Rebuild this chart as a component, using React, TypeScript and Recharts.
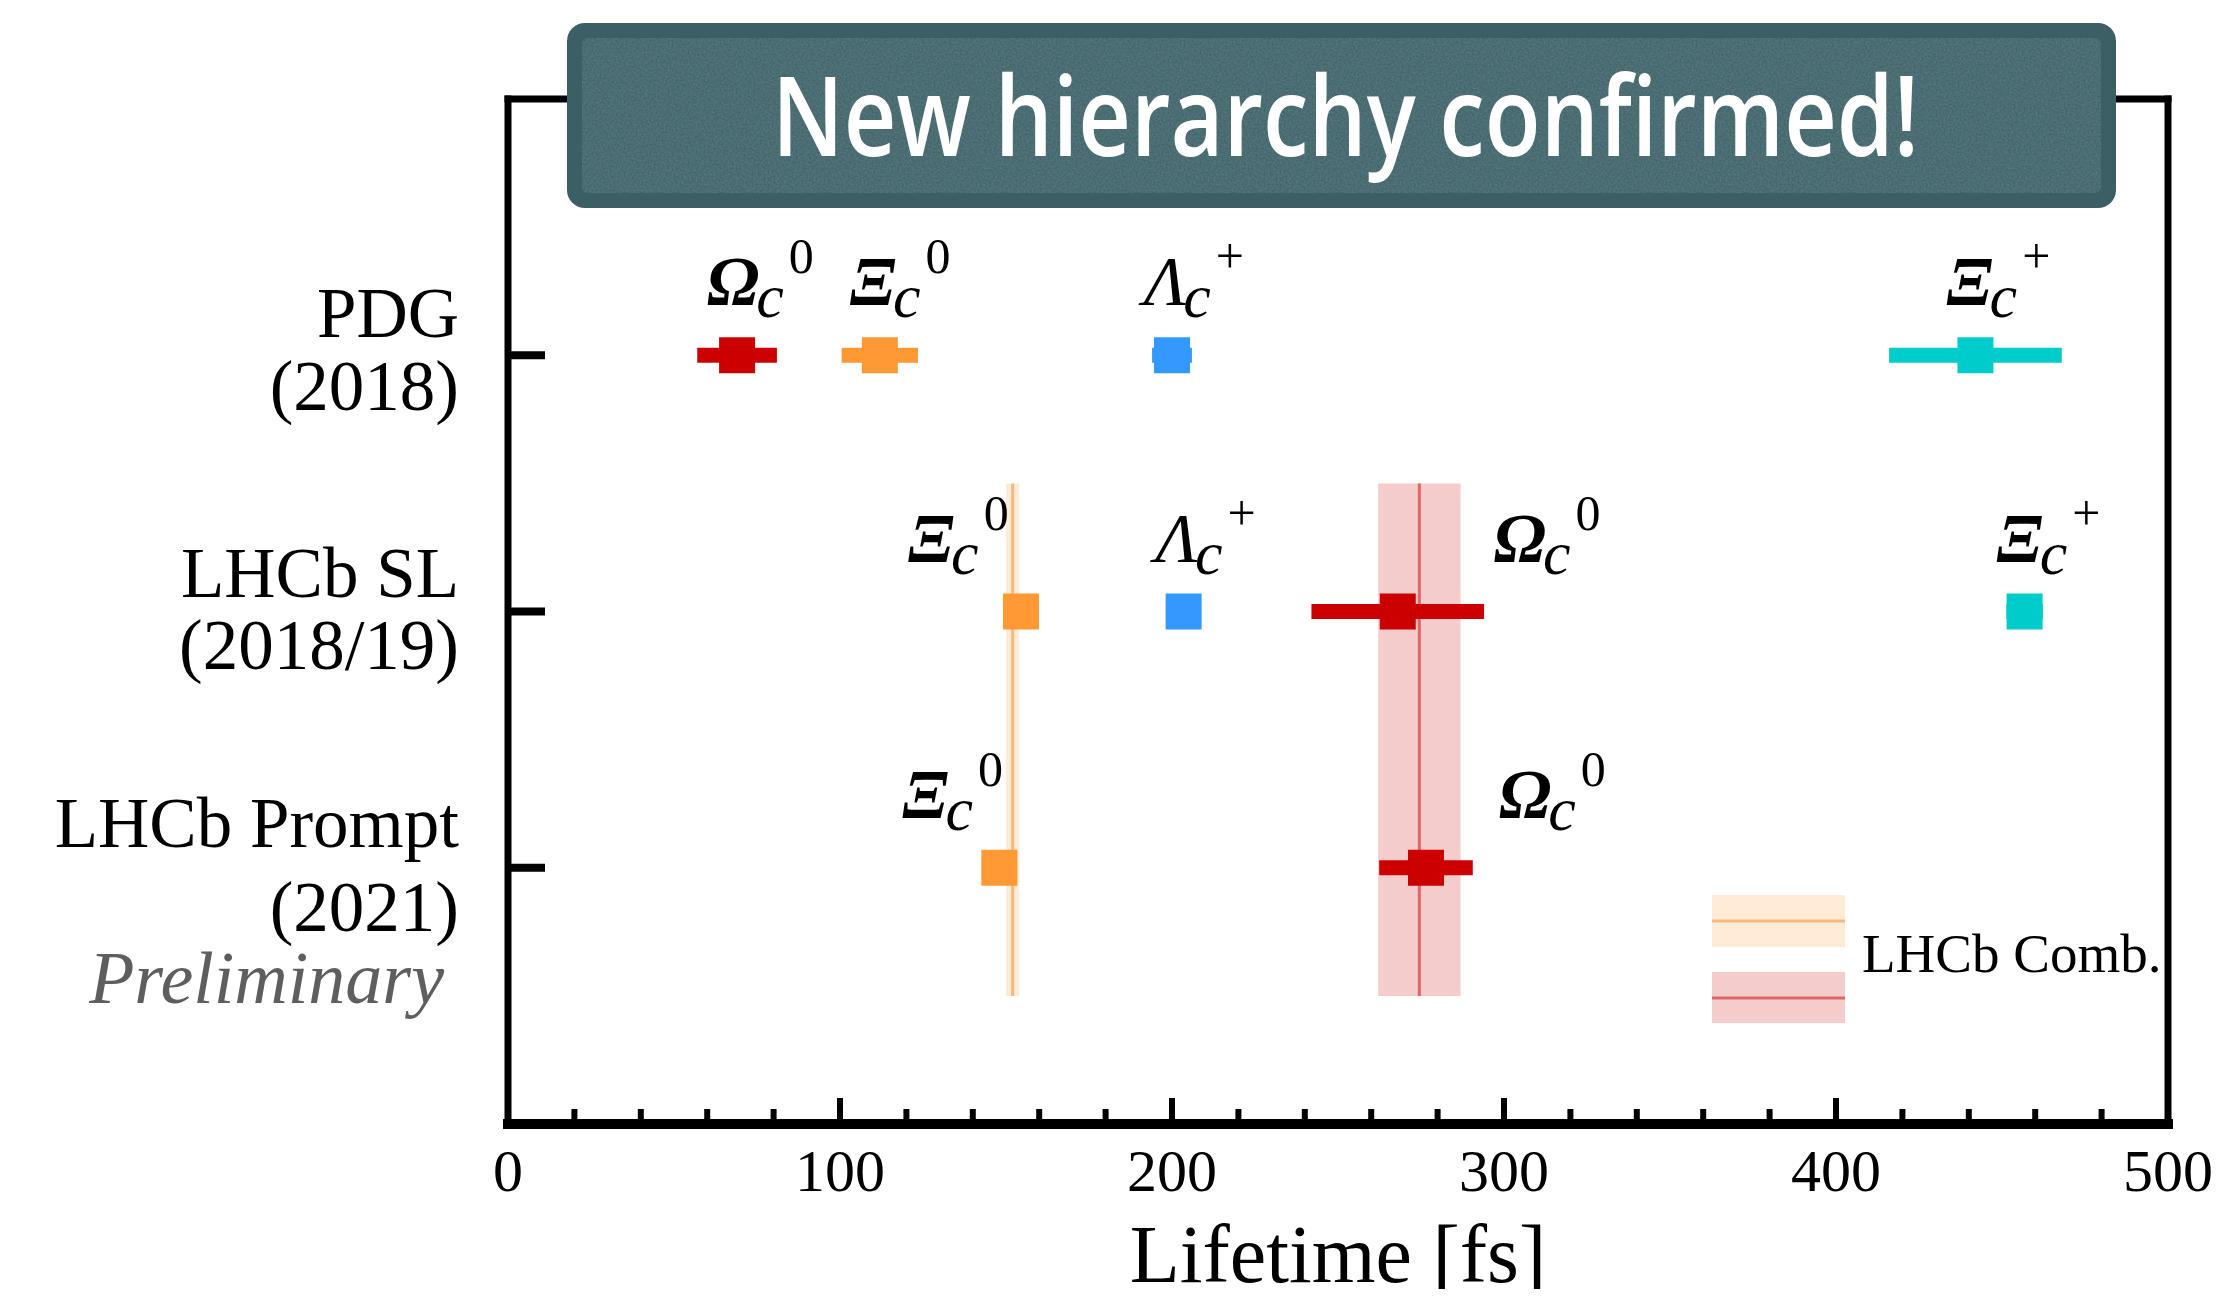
import React from 'react';
import {
  ComposedChart,
  Scatter,
  XAxis,
  YAxis,
  ErrorBar,
  ReferenceArea,
  ReferenceLine,
  Legend,
} from 'recharts';

// ---------------- data ----------------
const rowPositions = [1, 2, 3];
const rowLabels = [
  ['PDG', '(2018)'],
  ['LHCb SL', '(2018/19)'],
  ['LHCb Prompt', '(2021)', 'Preliminary'],
];

// lifetimes in fs (one value per row; rows without a measurement are omitted)
const omegaC0Lifetime = [69, 268, 276.5];
const omegaC0Error = [12, 26, 14.1];
const xiC0Lifetime = [112, 154.5, 148];
const xiC0Error = [11.5, 2.6, 3.2];
const lambdaCLifetime = [200, 203.5];
const lambdaCError = [6, 2.2];
const xiCPlusLifetime = [442, 456.8];
const xiCPlusError = [26, 5.5];

// LHCb combination bands (Xi_c0, Omega_c0)
const combLifetime = [152.0, 274.5];
const combError = [2.0, 12.4];
const combRowSpan = [1.5, 3.5];

const xTicks = [0, 20, 40, 60, 80, 100, 120, 140, 160, 180, 200, 220, 240, 260, 280, 300, 320, 340, 360, 380, 400, 420, 440, 460, 480, 500];
const xDomain = [0, 500];
const yDomain = [0, 4];

const titleText = 'New hierarchy confirmed!';
const xAxisTitle = 'Lifetime [fs]';
const legendText = 'LHCb Comb.';

// ---------------- styles ----------------
const SERIF = '"Liberation Serif", "Times New Roman", serif';
const colors = {
  omega: '#CC0000',
  xi0: '#FF9933',
  lambda: '#3399FF',
  xiPlus: '#00CCCC',
};
const bandFill = ['#FFEBD6', '#F5CCCC'];
const bandLine = ['#FCB97C', '#E06666'];

// label offsets (pixels, left edge of label relative to marker centre), per row
const labelDx: Record<string, number[]> = {
  omega: [-30, 96, 73],
  xi0: [-30, -113, -97],
  lambda: [-28, -28],
  xiPlus: [-29, -28],
};
const rowLineDy = [
  [-18, 55],
  [-15, 57],
  [-21, 63, 135],
];

type SeriesDef = {
  key: string;
  symbol: string;
  sup: string;
  bold: boolean;
  color: string;
  values: number[];
  errors: number[];
};

const series: SeriesDef[] = [
  { key: 'omega', symbol: 'Ω', sup: '0', bold: true, color: colors.omega, values: omegaC0Lifetime, errors: omegaC0Error },
  { key: 'xi0', symbol: 'Ξ', sup: '0', bold: true, color: colors.xi0, values: xiC0Lifetime, errors: xiC0Error },
  { key: 'lambda', symbol: 'Λ', sup: '+', bold: false, color: colors.lambda, values: lambdaCLifetime, errors: lambdaCError },
  { key: 'xiPlus', symbol: 'Ξ', sup: '+', bold: true, color: colors.xiPlus, values: xiCPlusLifetime, errors: xiCPlusError },
];

const buildData = (s: SeriesDef) =>
  s.values.map((v, i) => ({ x: v, y: rowPositions[i], err: s.errors[i], row: i }));

const makeShape = (s: SeriesDef) => (props: any) => {
  const { cx, cy, payload } = props;
  if (cx == null || cy == null) return <g />;
  const dx = labelDx[s.key][payload.row];
  return (
    <g>
      <rect x={cx - 18} y={cy - 18} width={36} height={36} fill={s.color} />
      <text x={cx + dx} y={cy - 50} fontFamily={SERIF} fill="#000">
        <tspan fontStyle="italic" fontWeight={s.bold ? 'bold' : 'normal'} fontSize={70}>{s.symbol}</tspan>
        <tspan fontStyle="italic" fontSize={62} dx={-3} dy={12}>c</tspan>
        <tspan fontSize={50} dx={5} dy={-44}>{s.sup}</tspan>
      </text>
    </g>
  );
};

const XTick = (props: any) => {
  const { x, y, payload } = props;
  const major = payload.value % 100 === 0;
  return (
    <g>
      <line x1={x} x2={x} y1={y} y2={y - (major ? 26 : 15)} stroke="#000" strokeWidth={6} />
      {major && (
        <text x={x} y={y + 67} textAnchor="middle" fontFamily={SERIF} fontSize={60} fill="#000">
          {payload.value}
        </text>
      )}
    </g>
  );
};

const YTick = (props: any) => {
  const { x, y, payload } = props;
  const idx = rowPositions.indexOf(payload.value);
  if (idx < 0) return <g />;
  const lines = rowLabels[idx];
  const dys = rowLineDy[idx];
  return (
    <g>
      <line x1={x} x2={x + 37} y1={y} y2={y} stroke="#000" strokeWidth={8} />
      {lines.map((t, i) => {
        const prelim = t === 'Preliminary';
        return (
          <text
            key={i}
            x={x - (prelim ? 64 : 49)}
            y={y + dys[i]}
            textAnchor="end"
            fontFamily={SERIF}
            fontSize={prelim ? 74 : 71}
            fontStyle={prelim ? 'italic' : 'normal'}
            fill={prelim ? '#5E5E5E' : '#000'}
          >
            {t}
          </text>
        );
      })}
    </g>
  );
};

const LegendContent = () => (
  <svg width={470} height={140} style={{ display: 'block' }}>
    <rect x={0} y={0} width={133} height={52} fill={bandFill[0]} />
    <line x1={0} x2={133} y1={26} y2={26} stroke={bandLine[0]} strokeWidth={3} />
    <rect x={0} y={77} width={133} height={51} fill={bandFill[1]} />
    <line x1={0} x2={133} y1={103} y2={103} stroke={bandLine[1]} strokeWidth={3} />
    <text x={150} y={77} fontFamily={SERIF} fontSize={55} fill="#000">
      {legendText}
    </text>
  </svg>
);

const TitleBox = () => (
  <svg width={2208} height={230} style={{ position: 'absolute', left: 0, top: 0, pointerEvents: 'none' }}>
    <defs>
      <filter id="paper" x="0" y="0" width="100%" height="100%">
        <feTurbulence type="fractalNoise" baseFrequency="0.5" numOctaves={3} seed={3} result="noise" />
        <feColorMatrix
          in="noise"
          type="matrix"
          values="0 0 0 0 0.30  0 0 0 0 0.45  0 0 0 0 0.48  0 0 0 0.3 -0.08"
          result="tint"
        />
        <feComposite in="tint" in2="SourceGraphic" operator="in" result="tex" />
        <feMerge>
          <feMergeNode in="SourceGraphic" />
          <feMergeNode in="tex" />
        </feMerge>
      </filter>
    </defs>
    <rect x={559} y={15} width={1549} height={185} rx={18} fill="#3C5E65" />
    <rect x={574} y={30} width={1519} height={155} rx={6} fill="#43666C" filter="url(#paper)" />
    <text
      x={764}
      y={148}
      fontFamily='"Open Sans", "Noto Sans", sans-serif'
      fontWeight={600}
      fontSize={110}
      fill="#FFFFFF"
      textLength={1147}
      lengthAdjust="spacingAndGlyphs"
    >
      {titleText}
    </text>
  </svg>
);

export default function App() {
  return (
    <div style={{ position: 'relative', width: 2208, height: 1281 }}>
      <ComposedChart width={2208} height={1281} margin={{ top: 91, right: 48, bottom: 0, left: 0 }}>
        <XAxis
          type="number"
          dataKey="x"
          domain={xDomain}
          ticks={xTicks}
          interval={0}
          allowDataOverflow
          height={165}
          tickSize={0}
          tickMargin={0}
          tickLine={false}
          tick={<XTick />}
          axisLine={{ stroke: '#000', strokeWidth: 10, strokeLinecap: 'square' }}
          label={{ value: xAxisTitle, position: 'insideBottom', offset: 7, fontSize: 82, fontFamily: SERIF, fill: '#000' }}
        />
        <YAxis
          type="number"
          dataKey="y"
          domain={yDomain}
          reversed
          ticks={rowPositions}
          interval={0}
          allowDataOverflow
          width={500}
          tickSize={0}
          tickMargin={0}
          tickLine={false}
          tick={<YTick />}
          axisLine={{ stroke: '#000', strokeWidth: 7, strokeLinecap: 'square' }}
        />
        {combLifetime.map((c, i) => (
          <ReferenceArea
            key={`band-${i}`}
            x1={c - combError[i]}
            x2={c + combError[i]}
            y1={combRowSpan[0]}
            y2={combRowSpan[1]}
            fill={bandFill[i]}
            fillOpacity={1}
            stroke="none"
          />
        ))}
        {combLifetime.map((c, i) => (
          <ReferenceLine
            key={`bandline-${i}`}
            segment={[
              { x: c, y: combRowSpan[0] },
              { x: c, y: combRowSpan[1] },
            ]}
            stroke={bandLine[i]}
            strokeWidth={3}
          />
        ))}
        <ReferenceLine y={yDomain[0]} stroke="#000" strokeWidth={7} strokeLinecap="square" />
        <ReferenceLine x={xDomain[1]} stroke="#000" strokeWidth={7} strokeLinecap="square" />
        {series.map((s) => (
          <Scatter
            key={s.key}
            name={s.key}
            data={buildData(s)}
            fill={s.color}
            isAnimationActive={false}
            shape={makeShape(s)}
          >
            <ErrorBar dataKey="err" direction="x" width={0} stroke={s.color} strokeWidth={15} isAnimationActive={false} />
          </Scatter>
        ))}
        <Legend
          layout="horizontal"
          verticalAlign="middle"
          align="center"
          width={470}
          height={140}
          wrapperStyle={{ position: 'absolute', left: 1704, top: 887, width: 470, height: 140, margin: 0, padding: 0, lineHeight: 0 }}
          content={<LegendContent />}
        />
      </ComposedChart>
      <TitleBox />
    </div>
  );
}
